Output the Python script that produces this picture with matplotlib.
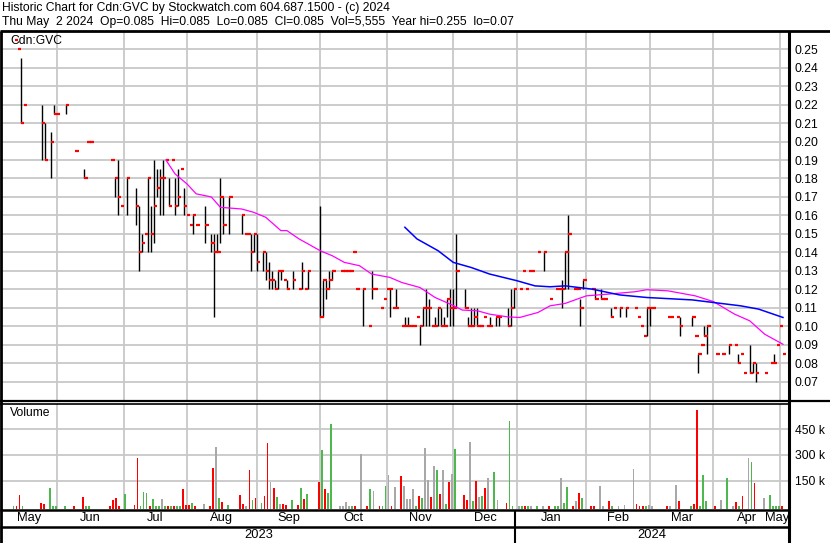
import matplotlib.pyplot as plt
import numpy as np
import pandas as pd
from matplotlib.lines import Line2D

plt.rcParams["font.family"] = ["Liberation Sans", "DejaVu Sans"]

FIRST_DAY = "2023-05-12"
LAST_DAY = "2024-05-02"

# trading days only; bar = weekday number counted from FIRST_DAY
bar = [0, 1, 2, 3, 9, 10, 12, 13, 14, 17, 20, 23, 24, 25, 32, 33, 34, 35, 37, 40,
       41, 42, 43, 44, 45, 46, 47, 48, 49, 50, 51, 52, 53, 54, 55, 56, 57, 58, 59, 60,
       63, 65, 66, 67, 68, 69, 71, 75, 76, 77, 78, 79, 80, 82, 83, 84, 85, 86, 87, 88,
       89, 90, 92, 94, 95, 96, 97, 101, 102, 103, 104, 105, 108, 109, 110, 111, 112, 113, 115, 117,
       118, 119, 121, 122, 123, 124, 125, 126, 128, 129, 130, 131, 132, 133, 134, 135, 136, 137, 138, 139,
       140, 141, 142, 143, 144, 145, 146, 149, 150, 151, 152, 153, 154, 155, 156, 157, 159, 160, 163, 164,
       165, 167, 168, 169, 170, 171, 173, 175, 177, 179, 180, 181, 182, 183, 185, 186, 187, 188, 191, 192,
       194, 195, 197, 198, 200, 202, 205, 206, 207, 208, 209, 210, 211, 216, 217, 219, 220, 224, 225, 226,
       227, 228, 229, 232, 234, 236, 238, 239, 240, 241, 243, 244, 245, 248, 250, 251, 252, 253, 254]
high = [0.255, 0.25, 0.245, 0.22, 0.22, 0.21, 0.205, 0.22, 0.215, 0.22, 0.195, 0.185, 0.20, 0.20, 0.19, 0.18, 0.19, 0.165, 0.18, 0.175,
        0.165, 0.15, 0.15, 0.18, 0.165, 0.19, 0.185, 0.185, 0.19, 0.19, 0.18, 0.19, 0.18, 0.185, 0.185, 0.175, 0.16, 0.155, 0.16, 0.155,
        0.165, 0.15, 0.15, 0.15, 0.18, 0.17, 0.17, 0.16, 0.15, 0.15, 0.15, 0.15, 0.15, 0.14, 0.14, 0.135, 0.13, 0.125, 0.13, 0.13,
        0.125, 0.125, 0.13, 0.12, 0.135, 0.12, 0.13, 0.165, 0.125, 0.125, 0.13, 0.13, 0.13, 0.13, 0.13, 0.13, 0.14, 0.12, 0.12, 0.10,
        0.13, 0.12, 0.11, 0.115, 0.12, 0.12, 0.11, 0.12, 0.10, 0.105, 0.105, 0.10, 0.10, 0.105, 0.10, 0.11, 0.12, 0.115, 0.10, 0.105,
        0.11, 0.11, 0.105, 0.115, 0.12, 0.12, 0.15, 0.12, 0.105, 0.11, 0.11, 0.11, 0.10, 0.105, 0.10, 0.105, 0.105, 0.105, 0.11, 0.12,
        0.12, 0.12, 0.13, 0.12, 0.13, 0.13, 0.14, 0.14, 0.115, 0.12, 0.12, 0.125, 0.14, 0.16, 0.12, 0.12, 0.115, 0.125, 0.12, 0.12,
        0.12, 0.115, 0.11, 0.11, 0.11, 0.11, 0.11, 0.105, 0.10, 0.095, 0.11, 0.11, 0.11, 0.105, 0.105, 0.105, 0.105, 0.105, 0.095, 0.085,
        0.09, 0.10, 0.10, 0.085, 0.085, 0.09, 0.09, 0.085, 0.085, 0.075, 0.09, 0.08, 0.08, 0.075, 0.08, 0.085, 0.09, 0.10, 0.085]
low = [0.255, 0.25, 0.21, 0.22, 0.19, 0.19, 0.18, 0.215, 0.215, 0.215, 0.195, 0.18, 0.20, 0.20, 0.19, 0.17, 0.16, 0.165, 0.16, 0.155,
       0.13, 0.14, 0.15, 0.14, 0.14, 0.145, 0.17, 0.16, 0.16, 0.19, 0.165, 0.19, 0.16, 0.165, 0.185, 0.16, 0.16, 0.155, 0.15, 0.155,
       0.145, 0.14, 0.105, 0.14, 0.145, 0.15, 0.15, 0.15, 0.15, 0.15, 0.13, 0.14, 0.13, 0.13, 0.125, 0.12, 0.12, 0.12, 0.12, 0.125,
       0.125, 0.12, 0.12, 0.12, 0.12, 0.12, 0.12, 0.105, 0.105, 0.115, 0.12, 0.125, 0.13, 0.13, 0.13, 0.13, 0.14, 0.12, 0.10, 0.10,
       0.115, 0.12, 0.11, 0.115, 0.12, 0.105, 0.11, 0.11, 0.10, 0.10, 0.10, 0.10, 0.10, 0.105, 0.09, 0.10, 0.10, 0.10, 0.10, 0.10,
       0.10, 0.10, 0.10, 0.105, 0.10, 0.10, 0.11, 0.11, 0.10, 0.10, 0.10, 0.10, 0.10, 0.105, 0.10, 0.10, 0.10, 0.10, 0.10, 0.10,
       0.11, 0.12, 0.13, 0.12, 0.13, 0.13, 0.14, 0.13, 0.115, 0.12, 0.12, 0.11, 0.12, 0.12, 0.12, 0.12, 0.10, 0.12, 0.12, 0.115,
       0.115, 0.115, 0.105, 0.11, 0.105, 0.105, 0.11, 0.105, 0.10, 0.095, 0.095, 0.10, 0.11, 0.105, 0.105, 0.105, 0.095, 0.10, 0.095, 0.075,
       0.09, 0.095, 0.085, 0.085, 0.085, 0.085, 0.09, 0.08, 0.085, 0.075, 0.075, 0.075, 0.07, 0.075, 0.08, 0.08, 0.09, 0.10, 0.085]
close = [0.255, 0.25, 0.21, 0.22, 0.21, 0.19, 0.20, 0.215, 0.215, 0.22, 0.195, 0.18, 0.20, 0.20, 0.19, 0.18, 0.17, 0.165, 0.18, 0.165,
         0.14, 0.145, 0.15, 0.18, 0.15, 0.165, 0.175, 0.18, 0.18, 0.19, 0.165, 0.19, 0.165, 0.17, 0.185, 0.165, 0.16, 0.155, 0.16, 0.155,
         0.155, 0.145, 0.14, 0.14, 0.17, 0.155, 0.17, 0.16, 0.15, 0.15, 0.14, 0.15, 0.135, 0.14, 0.13, 0.125, 0.125, 0.12, 0.13, 0.13,
         0.125, 0.12, 0.125, 0.12, 0.13, 0.12, 0.13, 0.105, 0.125, 0.12, 0.125, 0.13, 0.13, 0.13, 0.13, 0.13, 0.14, 0.12, 0.12, 0.10,
         0.12, 0.12, 0.11, 0.115, 0.12, 0.12, 0.11, 0.11, 0.10, 0.10, 0.10, 0.10, 0.10, 0.105, 0.10, 0.11, 0.11, 0.11, 0.10, 0.10,
         0.11, 0.10, 0.10, 0.115, 0.11, 0.11, 0.13, 0.11, 0.10, 0.10, 0.105, 0.10, 0.10, 0.105, 0.10, 0.10, 0.105, 0.105, 0.10, 0.11,
         0.12, 0.12, 0.13, 0.12, 0.13, 0.13, 0.14, 0.14, 0.115, 0.12, 0.12, 0.12, 0.14, 0.15, 0.12, 0.12, 0.11, 0.125, 0.12, 0.115,
         0.115, 0.115, 0.105, 0.11, 0.11, 0.11, 0.11, 0.105, 0.10, 0.095, 0.11, 0.11, 0.11, 0.105, 0.105, 0.105, 0.10, 0.105, 0.095, 0.085,
         0.09, 0.095, 0.10, 0.085, 0.085, 0.09, 0.09, 0.08, 0.085, 0.075, 0.075, 0.08, 0.075, 0.075, 0.08, 0.08, 0.09, 0.10, 0.085]

# daily volume in thousands, with the bar colour (g up, r down, n unchanged)
vol_bar = [0, 1, 2, 3, 9, 10, 12, 13, 14, 17, 20, 23, 24, 25, 32, 33, 34, 35, 37, 40,
           41, 42, 43, 44, 45, 46, 47, 48, 49, 50, 51, 52, 53, 54, 55, 56, 57, 58, 59, 60,
           63, 65, 66, 67, 68, 69, 71, 75, 76, 77, 78, 79, 80, 82, 83, 84, 85, 86, 87, 88,
           89, 90, 92, 94, 95, 96, 97, 101, 102, 103, 104, 105, 108, 109, 110, 111, 112, 113, 115, 117,
           118, 119, 121, 122, 123, 124, 125, 126, 128, 129, 130, 131, 132, 133, 134, 135, 136, 137, 138, 139,
           140, 141, 142, 143, 144, 145, 146, 149, 150, 151, 152, 153, 154, 155, 156, 157, 159, 160, 163, 164,
           165, 167, 168, 169, 170, 171, 173, 175, 177, 179, 180, 181, 182, 183, 185, 186, 187, 188, 191, 192,
           194, 195, 197, 198, 200, 202, 205, 206, 207, 208, 209, 210, 211, 216, 217, 219, 220, 224, 225, 226,
           227, 228, 229, 232, 234, 236, 238, 239, 240, 241, 243, 244, 245, 248, 250, 251, 252, 253, 254]
vol = [2, 2, 67, 2, 21, 15, 106, 2, 2, 2, 2, 54, 2, 2, 2, 36, 48, 2, 71, 8,
       279, 2, 83, 77, 2, 42, 2, 2, 42, 2, 2, 2, 2, 2, 2, 100, 8, 8, 19, 2,
       13, 3, 221, 348, 48, 25, 8, 67, 13, 3, 210, 36, 48, 19, 59, 371, 140, 106, 54, 13,
       13, 8, 36, 8, 106, 42, 71, 140, 325, 100, 77, 481, 2, 2, 25, 2, 2, 2, 302, 2,
       100, 88, 2, 2, 117, 181, 2, 111, 175, 117, 42, 40, 98, 3, 59, 48, 342, 152, 54, 232,
       210, 71, 210, 13, 140, 186, 336, 65, 36, 376, 31, 146, 54, 59, 106, 163, 198, 36, 19, 498,
       3, 2, 2, 2, 2, 2, 2, 2, 2, 2, 2, 163, 19, 111, 2, 31, 77, 48, 2, 2,
       117, 2, 31, 2, 2, 8, 215, 13, 2, 3, 2, 8, 2, 2, 3, 123, 31, 2, 13, 561,
       3, 181, 31, 3, 36, 163, 2, 25, 2, 59, 284, 256, 134, 48, 65, 3, 3, 2, 2]
vol_dir = ("grrgrrggggrrggrrrrgr"
           "rgggrgggngrgrggrrrgr"
           "nrrngrgrrnrgrgrrnrgn"
           "rrgrgrgrgrggnnnngrnr"
           "gnrggnrnrnnnngrgnnrn"
           "grngrngrrngrngrngnrg"
           "gngrgngnrggnggrnrgrr"
           "nnrgnnnrrrgnnrnnrgrr"
           "gggrngnrgrngrnggggr")

# moving averages
ma_short_bar = [50, 53, 57, 60, 65, 68, 75, 79, 83, 88, 90, 94, 97, 101, 105, 109, 114, 118, 124,
                128, 134, 139, 144, 148, 153, 157, 163, 167, 173, 177, 182, 189, 196, 205, 209,
                216, 225, 231, 238, 243, 248, 254]
ma_short = [0.190, 0.1825, 0.177, 0.1717, 0.170, 0.1644, 0.1635, 0.1617, 0.159, 0.1518, 0.1518,
            0.1473, 0.1446, 0.1409, 0.1382, 0.1346, 0.1328, 0.1283, 0.1265, 0.1237, 0.121, 0.1156,
            0.112, 0.1088, 0.1084, 0.1066, 0.1051, 0.1048, 0.1075, 0.1111, 0.1124, 0.1165, 0.1174,
            0.1187, 0.1198, 0.1192, 0.1165, 0.1134, 0.1066, 0.1030, 0.0957, 0.0903]
ma_long_bar = [129, 133, 140, 145, 151, 157, 166, 172, 177, 182, 191, 200, 209, 224, 231, 240, 246, 254]
ma_long = [0.1536, 0.1473, 0.1409, 0.1346, 0.1318, 0.1283, 0.1247, 0.1219, 0.1214, 0.1219, 0.1201,
           0.1170, 0.1156, 0.1143, 0.1129, 0.1111, 0.1093, 0.1048]

price_ticks = [0.07, 0.08, 0.09, 0.10, 0.11, 0.12, 0.13, 0.14, 0.15, 0.16, 0.17, 0.18, 0.19,
               0.20, 0.21, 0.22, 0.23, 0.24, 0.25]
vol_ticks = [150, 300, 450]
vol_tick_labels = ["150 k", "300 k", "450 k"]

header1 = "Historic Chart for Cdn:GVC by Stockwatch.com 604.687.1500 - (c) 2024"
header2 = "Thu May  2 2024  Op=0.085  Hi=0.085  Lo=0.085  Cl=0.085  Vol=5,555  Year hi=0.255  lo=0.07"

W, H = 830, 543
GRID = "#c8c8c8"
FS = 8.7
DIR_COLOR = {"g": "#4db84d", "r": "#ff0000", "n": "#a8a8a8"}


def box(left, top, right, bottom):
    return [left / W, 1 - bottom / H, (right - left) / W, (bottom - top) / H]


def frame_line(fig, x0, y0, x1, y1, lw=1.5):
    fig.add_artist(Line2D([x0 / W, x1 / W], [1 - y0 / H, 1 - y1 / H], transform=fig.transFigure,
                          color="black", lw=lw, solid_capstyle="butt"))


days = pd.bdate_range(FIRST_DAY, LAST_DAY)
x_lo, x_hi = -4.2, len(days) + 1.0
month_start = [i for i in range(1, len(days)) if days[i].month != days[i - 1].month]

bar = np.array(bar)
high, low, close = map(np.array, (high, low, close))

fig = plt.figure(figsize=(W / 100, H / 100), dpi=100)
ax = fig.add_axes(box(2, 31, 789, 401))
vax = fig.add_axes(box(2, 404, 789, 509))
dax = fig.add_axes(box(2, 509, 789, 543))

# price panel
ax.set_xlim(x_lo, x_hi)
ax.set_ylim(0.0596, 0.2598)
ax.set_yticks(price_ticks)
ax.set_yticklabels([f"{t:.2f}" for t in price_ticks])
ax.yaxis.tick_right()
ax.set_xticks(month_start)
ax.tick_params(axis="both", length=0, labelsize=FS, pad=4)
ax.tick_params(axis="x", labelbottom=False)
ax.grid(color=GRID, lw=1.3)
ax.set_axisbelow(True)

ranged = high > low
ax.vlines(bar[ranged], low[ranged], high[ranged], color="black", lw=1.0)
ax.hlines(close, bar, bar + 1.1, color="red", lw=1.6)
ax.plot(ma_short_bar, ma_short, color="#ff00ff", lw=0.9)
ax.plot(ma_long_bar, ma_long, color="#0000ff", lw=1.1)

# volume panel
v_lo = -16
vax.set_xlim(x_lo, x_hi)
vax.set_ylim(v_lo, 596)
vax.bar(np.array(vol_bar) - 0.4, np.array(vol) - v_lo, bottom=v_lo, width=0.6,
        color=[DIR_COLOR[c] for c in vol_dir], linewidth=0)
vax.set_yticks(vol_ticks)
vax.set_yticklabels(vol_tick_labels)
vax.yaxis.tick_right()
vax.set_xticks(month_start)
vax.tick_params(axis="both", length=0, labelsize=FS, pad=4)
vax.tick_params(axis="x", labelbottom=False)
vax.grid(color=GRID, lw=1.3)
vax.set_axisbelow(True)

# date strip: months and years
dax.set_xlim(x_lo, x_hi)
dax.set_ylim(34, 0)
dax.axis("off")
edges = [x_lo] + month_start + [x_hi]
for a, b in zip(edges[:-1], edges[1:]):
    mid = (a + b) / 2
    if b - a < 8:
        mid = b - 4
    label = days[int(max(a, 0))].strftime("%b")
    dax.text(mid, 9, label, ha="center", va="center", fontsize=FS + 0.6)
year_cut = [i for i in month_start if days[i].month == 1][0] - 0.5
dax.text((x_lo + year_cut) / 2, 26, str(days[0].year), ha="center", va="center", fontsize=FS + 0.6)
dax.text((year_cut + x_hi) / 2, 26, str(days[-1].year), ha="center", va="center", fontsize=FS + 0.6)

for a in (ax, vax):
    for s in a.spines.values():
        s.set_visible(False)

# frame
frame_line(fig, 0, 31, W, 31, 2.0)
frame_line(fig, 1, 31, 1, H, 2.0)
frame_line(fig, 789, 31, 789, H, 2.2)
frame_line(fig, 0, 401, W, 401, 1.6)
frame_line(fig, 0, 403.5, 789, 403.5, 1.2)
frame_line(fig, 0, 509.5, 789, 509.5, 1.8)
frame_line(fig, 0, 527, 789, 527, 1.8)
x_cut = 2 + (year_cut - x_lo) / (x_hi - x_lo) * 787
frame_line(fig, x_cut, 509.5, x_cut, H, 1.5)

fig.text(2 / W, 1 - 8 / H, header1, fontsize=FS, va="center", ha="left")
fig.text(2 / W, 1 - 22 / H, header2, fontsize=FS, va="center", ha="left")
fig.text(10 / W, 1 - 41 / H, "Cdn:GVC", fontsize=FS, va="center", ha="left")
fig.text(10 / W, 1 - 413 / H, "Volume", fontsize=FS, va="center", ha="left")

fig.savefig("out.png", dpi=100)
